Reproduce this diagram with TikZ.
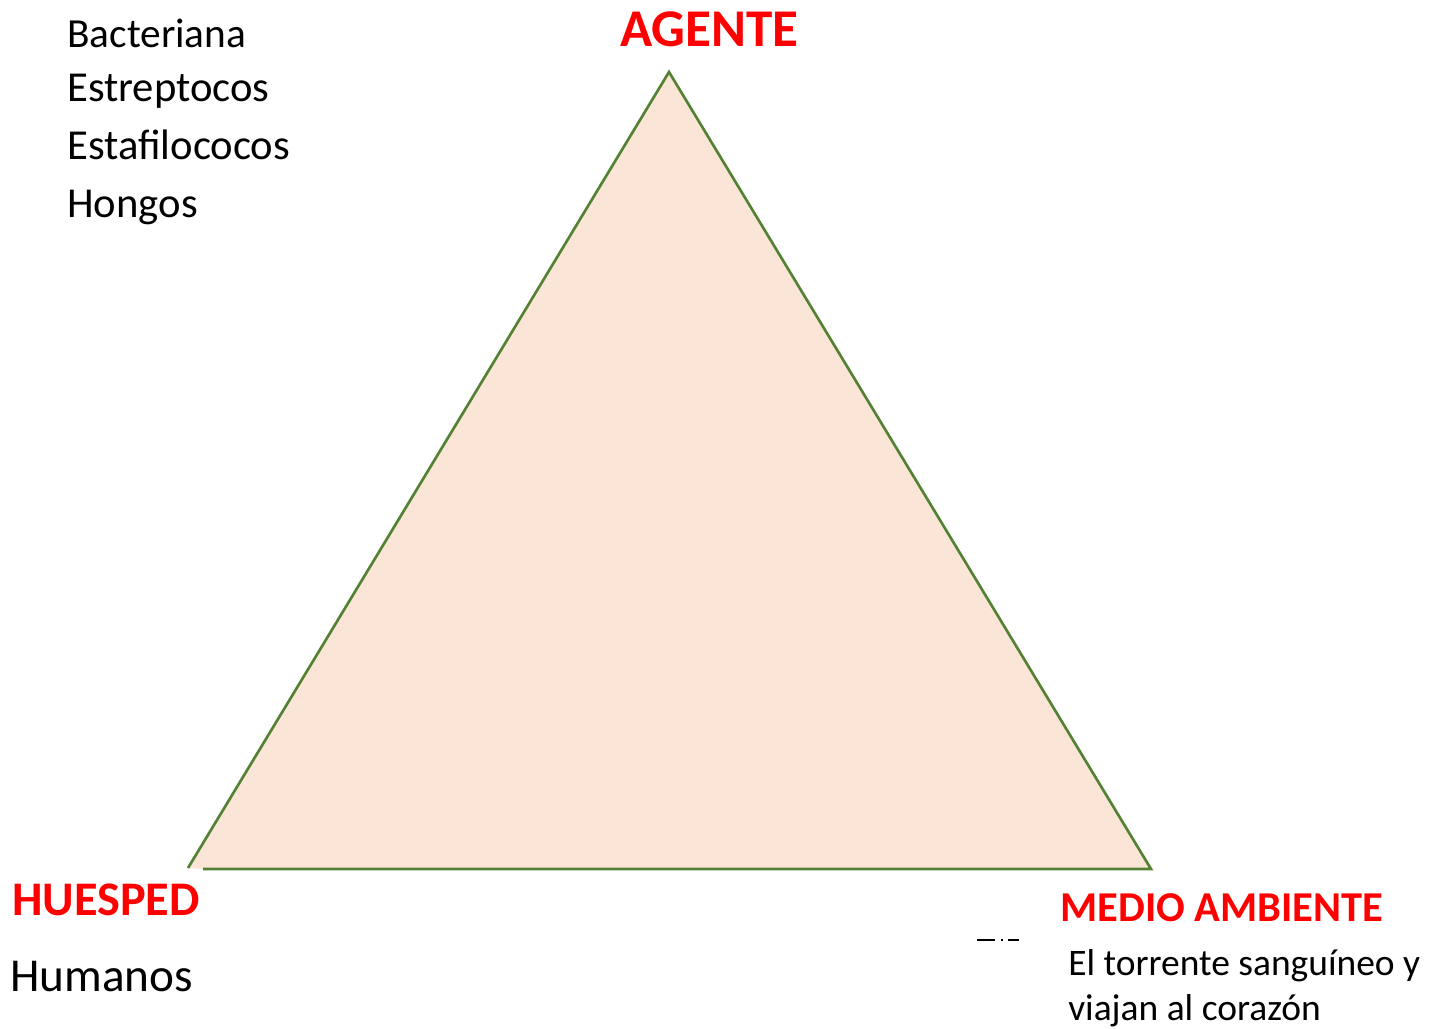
\documentclass[tikz,border=0pt]{standalone}
\usepackage{fontspec}
\setmainfont{Carlito}
\definecolor{tri}{HTML}{548235}
\definecolor{trifill}{HTML}{FBE5D6}
\definecolor{lbl}{HTML}{FF0000}
\begin{document}
\begin{tikzpicture}[x=0.75pt,y=-0.75pt,
  redlbl/.style={text=lbl,font=\bfseries,anchor=base west,inner sep=0pt},
  plain/.style={text=black,anchor=base west,inner sep=0pt}]
\useasboundingbox (0,0) rectangle (1438,1028);
\coordinate (apex) at (669,72);
\coordinate (bl) at (188,868);
\coordinate (blb) at (203,869);
\coordinate (br) at (1151,869);
\fill[trifill] (apex) -- (bl) -- (blb) -- (br) -- cycle;
\draw[tri,line width=2pt,line join=miter] (bl) -- (apex) -- (br) -- (blb);
% labels
\node[redlbl,font=\fontsize{39.8}{44}\selectfont\bfseries] (agente) at (620,46) {AGENTE};
\node[redlbl,font=\fontsize{36.2}{40}\selectfont\bfseries] (huesped) at (12,915) {HUESPED};
\node[redlbl,font=\fontsize{31.9}{36}\selectfont\bfseries] (medio) at (1060,921) {MEDIO AMBIENTE};
% agent list
\node[plain,font=\fontsize{31}{36}\selectfont] (l1) at (67,47) {Bacteriana};
\node[plain,font=\fontsize{32}{36}\selectfont] (l2) at (67,101) {Estreptocos};
\node[plain,font=\fontsize{32}{36}\selectfont] (l3) at (67,159) {Estaf{}ilococos};
\node[plain,font=\fontsize{32}{36}\selectfont] (l4) at (67,217) {Hongos};
% host
\node[plain,font=\fontsize{35.4}{40}\selectfont] (hum) at (10,991) {Humanos};
% environment
\node[plain,font=\fontsize{28.1}{32}\selectfont] (env1) at (1068,975) {El torrente sanguíneo y};
\node[plain,font=\fontsize{28.1}{32}\selectfont] (env2) at (1068,1020) {viajan al corazón};
% small artifact marks
\draw[black,line width=1.5pt] (977,940) -- (995,940);
\draw[black,line width=1.5pt] (1001,940) -- (1003,940);
\draw[black,line width=1.5pt] (1008,940) -- (1019,940);
\end{tikzpicture}
\end{document}
